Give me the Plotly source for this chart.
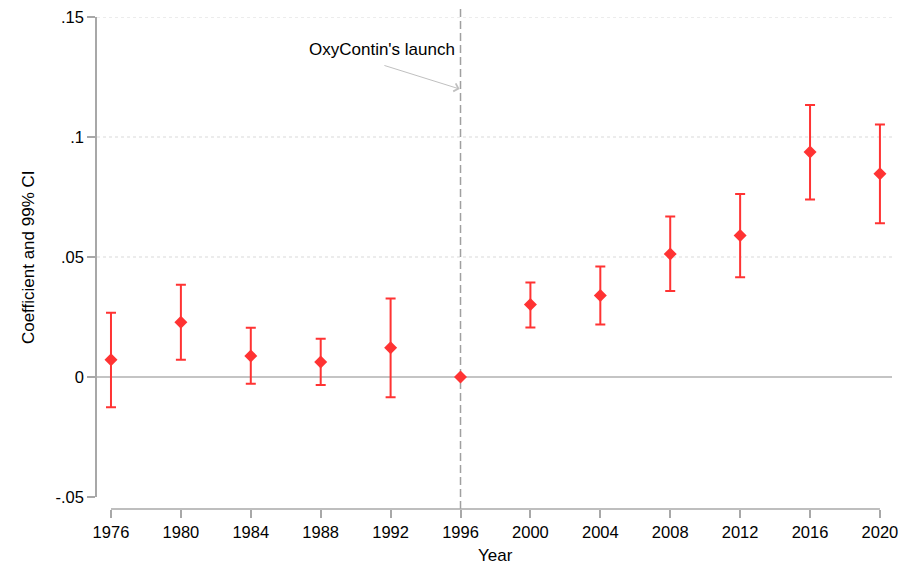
import plotly.graph_objects as go

years = [1976, 1980, 1984, 1988, 1992, 1996, 2000, 2004, 2008, 2012, 2016, 2020]
coef = [0.0072, 0.0228, 0.0088, 0.0063, 0.0122, 0.0, 0.0302, 0.0340, 0.0513, 0.0590, 0.0937, 0.0847]
ci_upper = [0.0268, 0.0384, 0.0205, 0.0159, 0.0327, 0.0, 0.0394, 0.0460, 0.0669, 0.0763, 0.1133, 0.1052]
ci_lower = [-0.0126, 0.0072, -0.0028, -0.0033, -0.0084, 0.0, 0.0206, 0.0219, 0.0358, 0.0416, 0.0740, 0.0641]
y_ticks = [-0.05, 0, 0.05, 0.1, 0.15]
y_ticktext = ["-.05", "0", ".05", ".1", ".15"]
grid_vals = [0.05, 0.1, 0.15]
launch_year = 1996

RED = "#ff3333"
AX = "#a8a8a8"
FONT = "Liberation Sans, Arial, sans-serif"

err_plus = [u - c for u, c in zip(ci_upper, coef)]
err_minus = [c - l for c, l in zip(coef, ci_lower)]

fig = go.Figure()
fig.add_trace(go.Scatter(
    x=years, y=coef, mode="markers",
    marker=dict(symbol="diamond", size=10, color=RED),
    error_y=dict(type="data", symmetric=False, array=err_plus, arrayminus=err_minus,
                 color=RED, thickness=2, width=5),
    showlegend=False, cliponaxis=False, hoverinfo="skip",
))

shapes = []
for v in grid_vals:
    shapes.append(dict(type="line", xref="paper", yref="y", x0=0, x1=1, y0=v, y1=v,
                       line=dict(color="#d9d9d9", width=1, dash="dot"), layer="below"))
# separated x axis line (from first to last year)
shapes.append(dict(type="line", xref="x", yref="paper", x0=years[0], x1=years[-1], y0=0, y1=0,
                   line=dict(color=AX, width=1.5)))
# vertical dashed line at launch
shapes.append(dict(type="line", xref="x", yref="paper", x0=launch_year, x1=launch_year,
                   y0=0, y1=1.022, line=dict(color="#a0a0a0", width=1.5, dash="8px,4px"),
                   layer="below"))

fig.update_layout(
    template="none",
    width=915, height=567,
    margin=dict(l=97, r=23, t=17, b=58, pad=0),
    paper_bgcolor="white", plot_bgcolor="white",
    font=dict(family=FONT, size=17, color="#000000"),
    shapes=shapes,
    xaxis=dict(range=[1975.2, 2020.69], tickvals=years, ticks="outside", ticklen=8,
               tickcolor=AX, tickwidth=1.5, showline=False, showgrid=False, zeroline=False,
               anchor="free", position=0, automargin=False,
               tickfont=dict(size=16.5)),
    yaxis=dict(range=[-0.05, 0.15], domain=[12/492, 1], tickvals=y_ticks, ticktext=y_ticktext,
               ticks="outside", ticklen=8, tickcolor=AX, tickwidth=1.5,
               showline=True, linecolor=AX, linewidth=1.5, automargin=False,
               showgrid=False, zeroline=True, zerolinecolor="#c4c4c4", zerolinewidth=1.5,
               tickfont=dict(size=16.5)),
    annotations=[
        dict(x=0.5013, y=-0.094, xref="paper", yref="paper", text="Year",
             showarrow=False, xanchor="center", yanchor="middle", font=dict(size=17)),
        dict(x=-0.0868, y=0.512, xref="paper", yref="paper", text="Coefficient and 99% CI",
             showarrow=False, textangle=-90, xanchor="center", yanchor="middle",
             font=dict(size=17)),
        dict(x=1991.5, y=0.1365, xref="x", yref="y", text="OxyContin's launch",
             showarrow=False, font=dict(size=17)),
        dict(x=launch_year - 0.05, y=0.12, xref="x", yref="y", ax=1991.56, ay=0.13,
             axref="x", ayref="y", text="", showarrow=True, arrowhead=4, arrowsize=1.6,
             arrowwidth=1, arrowcolor="#c0c0c0"),
    ],
)

fig.write_html("out.html", config={"displayModeBar": False},
               post_script="document.body.style.margin='0';document.body.style.overflow='hidden';")
